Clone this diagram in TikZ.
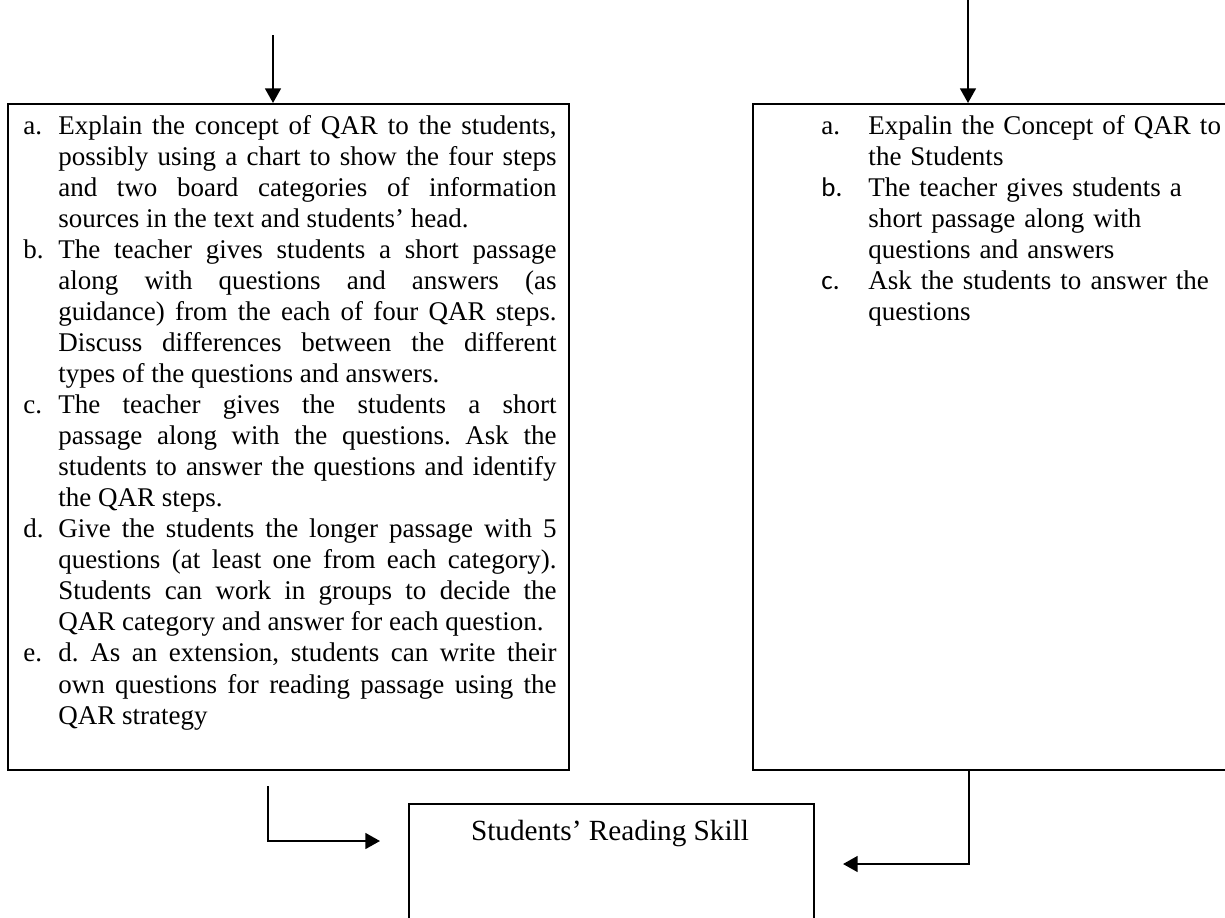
\documentclass[tikz,border=0pt]{standalone}
\usepackage{fontspec}
\setmainfont{Liberation Serif}
\newfontfamily\calibfont{Carlito}
\usetikzlibrary{arrows.meta}
\newlength\labw
\newcommand\litem[2]{\par\noindent\hangindent=\labw\hangafter=1\makebox[\labw][l]{#1}#2\par}
\begin{document}
\begin{tikzpicture}[x=0.4444pt,y=-0.4444pt,
  boxline/.style={draw,line width=0.8pt,inner sep=0pt,anchor=north west},
  flow/.style={line width=1pt,-{Triangle[length=6.5pt,width=7pt]}},
  body/.style={inner sep=0pt,anchor=base west,font=\fontsize{12}{13.8}\selectfont}]
\useasboundingbox (0,0) rectangle (1225,917);
\clip (0,0) rectangle (1225,917);
% boxes
\node[boxline,minimum width=249.3pt,minimum height=296pt] (lbox) at (7,103) {};
\node[boxline,minimum width=216.9pt,minimum height=296pt] (rbox) at (752,103) {};
\node[boxline,minimum width=180pt,minimum height=61pt] (bbox) at (408,803) {};
% left text
\node[body,text width=236.9pt,align=justify] (ltext) at (23,103) {%
\frenchspacing\setlength\labw{15.55pt}\hyphenpenalty=10000
\litem{a.}{Explain the concept of QAR to the students,\linebreak possibly using a chart to show the four steps\linebreak and two board categories of information\linebreak sources in the text and students’ head.}%
\litem{b.}{The teacher gives students a short passage\linebreak along with questions and answers (as\linebreak guidance) from the each of four QAR steps.\linebreak Discuss differences between the different\linebreak types of the questions and answers.}%
\litem{c.}{The teacher gives the students a short\linebreak passage along with the questions. Ask the\linebreak students to answer the questions and identify\linebreak the QAR steps.}%
\litem{d.}{Give the students the longer passage with 5\linebreak questions (at least one from each category).\linebreak Students can work in groups to decide the\linebreak QAR category and answer for each question.}%
\litem{e.}{d. As an extension, students can write their\linebreak own questions for reading passage using the\linebreak QAR strategy}};
% right text
\node[body,text width=200pt,align=left] (rtext) at (821,103) {%
\frenchspacing\setlength\labw{20.9pt}
\litem{a.}{Expalin the Concept of QAR to\newline the Students}%
\litem{\calibfont b.}{The teacher gives students a\newline short passage along with\newline questions and answers}%
\litem{\calibfont c.}{Ask the students to answer the\newline questions}};
% bottom text
\node[inner sep=0pt,anchor=base,font=\fontsize{13}{15}\selectfont] (btext) at (610,840) {Students’ Reading Skill};
% connectors
\coordinate (ltop) at (273,35);
\coordinate (rtop) at (968,-3);
\draw[flow] (ltop) -- (ltop |- lbox.north);
\draw[flow] (rtop) -- (rtop |- rbox.north);
\coordinate (lstart) at (268,786);
\coordinate (lend) at (380,841);
\draw[flow] (lstart) |- (lend);
\coordinate (rx) at (969,0);
\coordinate (rend) at (843,864);
\draw[flow] (rx |- rbox.south) |- (rend);
\end{tikzpicture}
\end{document}
